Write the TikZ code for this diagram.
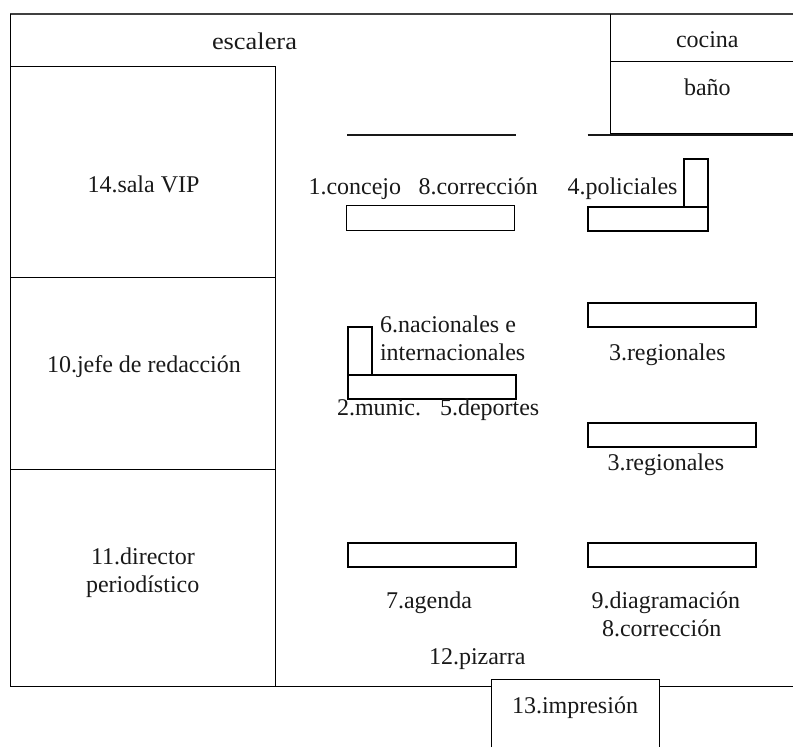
\documentclass[tikz,border=0pt]{standalone}
\usepackage{fontspec}
\setmainfont{Liberation Serif}
\tikzset{
  lbl/.style={anchor=base west,inner sep=0pt,outer sep=0pt,font=\fontsize{18}{20}\selectfont,text=black!90},
  wall/.style={draw=black,line width=0.75pt},
  desk/.style={draw=black,line width=1.1pt},
  deskthin/.style={draw=black,line width=0.75pt},
  heavy/.style={draw=black!75,line width=1.15pt},
  ledge/.style={draw=black!90,line width=1.15pt}
}
\begin{document}
\begin{tikzpicture}[x=0.75pt,y=-0.75pt]
\useasboundingbox (0,0) rectangle (793,747);
% outer walls
\draw[heavy] (10,14) -- (793,14);
\draw[wall] (10,14) -- (10,686) -- (491,686);
\draw[wall] (659,686) -- (793,686);
% rooms on the left
\draw[wall] (10,66.5) -- (275,66.5) -- (275,686);
\draw[wall] (10,277.5) -- (275,277.5);
\draw[wall] (10,469.5) -- (275,469.5);
% kitchen and bath
\draw[wall] (610.5,14) -- (610.5,133.5) -- (793,133.5);
\draw[wall] (610.5,61.5) -- (793,61.5);
\draw[ledge] (587.5,135) -- (793,135);
\draw[ledge] (347,135) -- (516,135);
% printing room
\draw[wall] (491,747) -- (491,679.5) -- (659,679.5) -- (659,747);
% desks
\draw[deskthin] (346.5,205.5) rectangle (514.5,230.5);
\draw[desk] (684,159) rectangle (708,207);
\draw[desk] (588,207) rectangle (708,231);
\draw[desk] (348,327) rectangle (372,375);
\draw[desk] (348,375) rectangle (516,399);
\draw[desk] (588,303) rectangle (756,327);
\draw[desk] (588,423) rectangle (756,447);
\draw[desk] (588,543) rectangle (756,567);
\draw[desk] (348,543) rectangle (516,567);
% labels
\node[lbl,xscale=1.1,transform shape] (escalera) at (212,49) {escalera};
\node[lbl] (cocina) at (676,47.5) {cocina};
\node[lbl] (bano) at (684,95.5) {baño};
\node[lbl] (sala) at (87.5,192) {14.sala VIP};
\node[lbl] (concejo) at (308.5,194) {1.concejo};
\node[lbl] (correccionA) at (418.5,194) {8.corrección};
\node[lbl] (policiales) at (567.5,194) {4.policiales};
\node[lbl] (jefe) at (47,372) {10.jefe de redacción};
\node[lbl] (director) at (91,564) {11.director};
\node[lbl] (periodistico) at (86,592) {periodístico};
\node[lbl] (nacionales) at (380,332) {6.nacionales e};
\node[lbl] (internacionales) at (380,360) {internacionales};
\node[lbl] (munic) at (337,415) {2.munic.};
\node[lbl] (deportes) at (440,415) {5.deportes};
\node[lbl] (regionalesA) at (609,360) {3.regionales};
\node[lbl] (regionalesB) at (607.5,470) {3.regionales};
\node[lbl] (agenda) at (386,608) {7.agenda};
\node[lbl] (diagramacion) at (591.5,608) {9.diagramación};
\node[lbl] (correccionB) at (602,636) {8.corrección};
\node[lbl] (pizarra) at (429,664) {12.pizarra};
\node[lbl] (impresion) at (512,713) {13.impresión};
\end{tikzpicture}
\end{document}
